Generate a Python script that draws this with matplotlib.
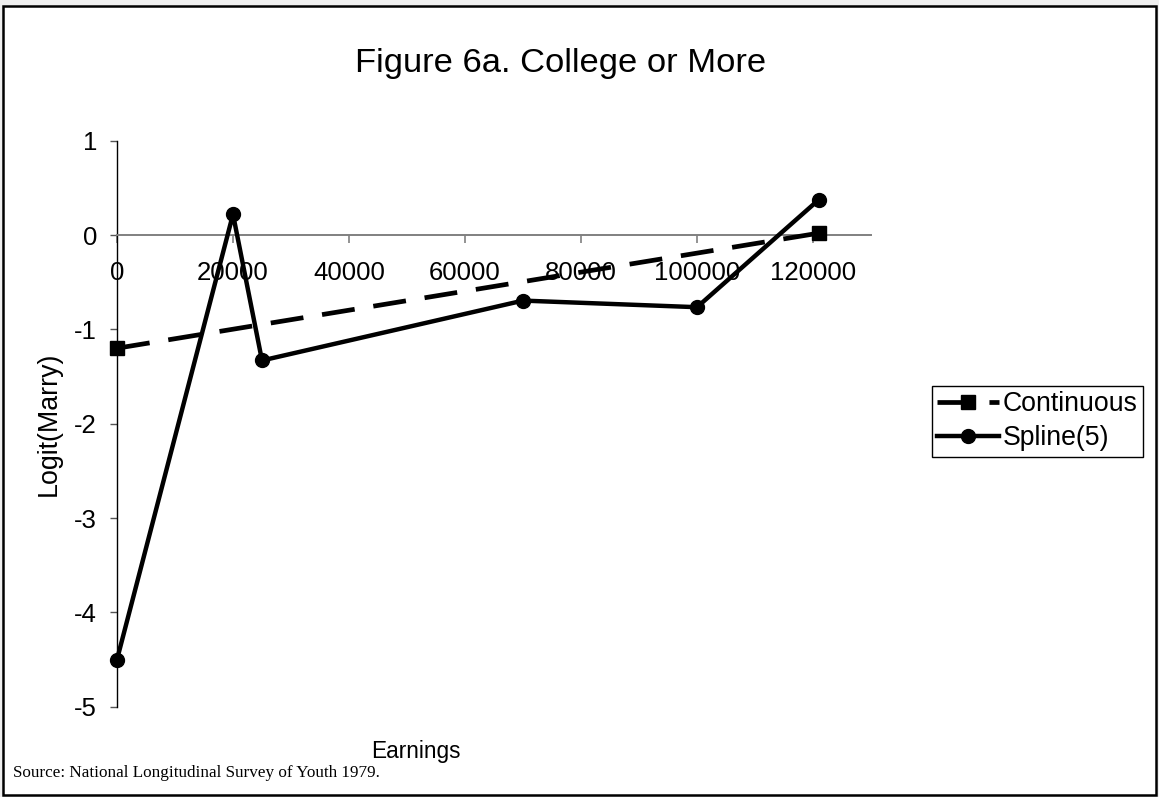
import matplotlib
matplotlib.use("Agg")
import matplotlib.pyplot as plt
from matplotlib.patches import Rectangle

# Logit(Marry) by earnings, two model specifications
earnings_continuous = [0, 121000]
logit_continuous = [-1.2, 0.02]

earnings_spline = [0, 20000, 25000, 70000, 100000, 121000]
logit_spline = [-4.5, 0.22, -1.33, -0.695, -0.765, 0.375]

x_ticks = [0, 20000, 40000, 60000, 80000, 100000, 120000]
x_tick_labels = ["0", "20000", "40000", "60000", "80000", "100000", "120000"]
y_ticks = [-5, -4, -3, -2, -1, 0, 1]
y_tick_labels = ["-5", "-4", "-3", "-2", "-1", "0", "1"]

series_names = ["Continuous", "Spline(5)"]
title = "Figure 6a. College or More"
x_label = "Earnings"
y_label = "Logit(Marry)"
source_note = "Source: National Longitudinal Survey of Youth 1979."

W, H = 1159, 797
plt.rcParams["font.family"] = ["Liberation Sans", "DejaVu Sans"]

fig = plt.figure(figsize=(W / 100, H / 100), dpi=100)
fig.patch.set_facecolor("#efefef")

# white chart frame with a black border
fig.patches.append(Rectangle((3 / W, 2 / H), 1153 / W, 789 / H,
                             transform=fig.transFigure, facecolor="white",
                             edgecolor="black", linewidth=1.8, zorder=-10))

ax = fig.add_axes([117 / W, 1 - 706.7 / H, (871 - 117) / W, (706.7 - 140.7) / H])
ax.set_zorder(2)
ax.patch.set_alpha(0)
ax.set_xlim(0, 130000)
ax.set_ylim(-5, 1)

for side in ("top", "right"):
    ax.spines[side].set_visible(False)
ax.spines["bottom"].set_position(("data", 0))
ax.spines["bottom"].set_color("#808080")
ax.spines["bottom"].set_linewidth(1.4)
ax.spines["left"].set_color("black")
ax.spines["left"].set_linewidth(1.0)

ax.set_xticks(x_ticks)
ax.set_xticklabels(x_tick_labels)
ax.set_yticks(y_ticks)
ax.set_yticklabels(y_tick_labels)
ax.tick_params(axis="x", direction="out", length=5.8, width=1.2, color="#808080",
               labelsize=18.5, pad=13)
ax.tick_params(axis="y", direction="out", length=5, width=1.0, color="#555555",
               labelsize=18.5, pad=9.4)

line_cont, = ax.plot(earnings_continuous, logit_continuous, color="black",
                     linewidth=3.4, linestyle=(0, (7, 4)), marker="s",
                     markersize=9.5, clip_on=False, zorder=3,
                     label=series_names[0])
line_spl, = ax.plot(earnings_spline, logit_spline, color="black",
                    linewidth=3.2, linestyle="-", marker="o",
                    markersize=10, clip_on=False, zorder=4,
                    label=series_names[1])

fig.text(561 / W, 1 - 72 / H, title, ha="center", va="baseline", fontsize=24.8)
fig.text(49 / W, 1 - 423.5 / H, y_label, ha="center", va="center",
         rotation=90, fontsize=19.3)
fig.text(416 / W, 1 - 758 / H, x_label, ha="center", va="baseline", fontsize=16.3)
fig.text(13 / W, 1 - 777 / H, source_note, ha="left", va="baseline",
         fontsize=12.35, family=["Liberation Serif", "DejaVu Serif"])

leg = fig.legend(handles=[line_cont, line_spl], loc="upper left",
                 bbox_to_anchor=(932 / W, 1 - 386 / H), borderaxespad=0,
                 borderpad=0.2, handlelength=2.3, handletextpad=0.15,
                 labelspacing=0.3, fontsize=19.2, fancybox=False,
                 framealpha=1, edgecolor="black")
leg.get_frame().set_linewidth(1.0)

fig.savefig("out.png", dpi=100, facecolor=fig.get_facecolor())
